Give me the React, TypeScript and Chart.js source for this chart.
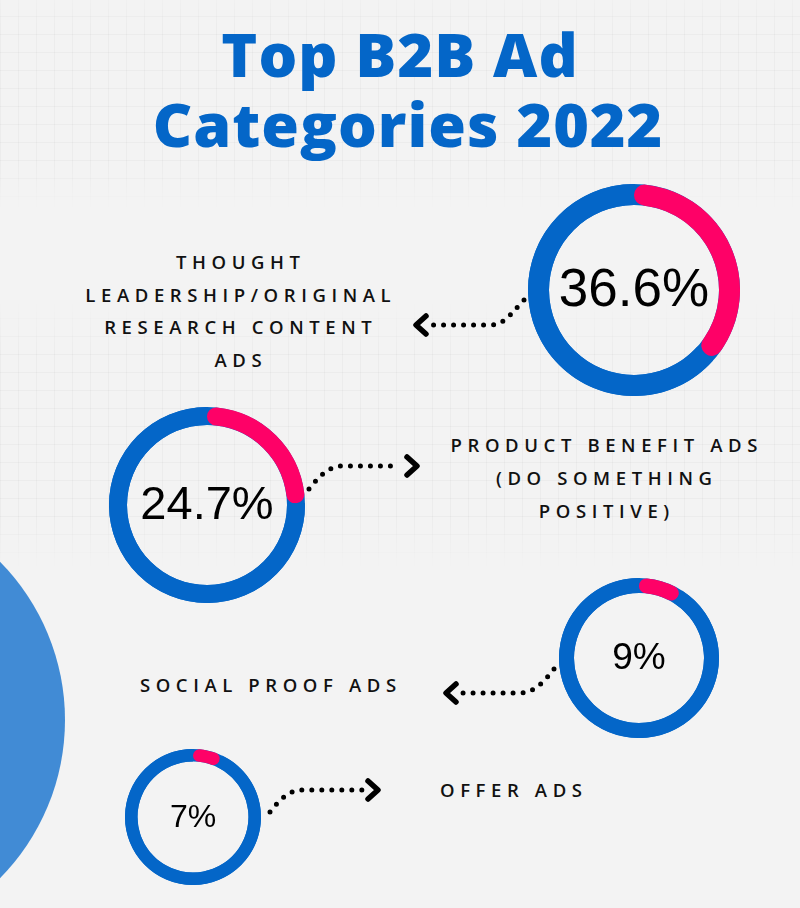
import React, { useEffect, useRef } from "react";
import { Chart, registerables } from "chart.js";

Chart.register(...registerables);

const titleLines = ["Top B2B Ad", "Categories 2022"];
const categoryLines = [
  ["THOUGHT", "LEADERSHIP/ORIGINAL", "RESEARCH CONTENT", "ADS"],
  ["PRODUCT BENEFIT ADS", "(DO SOMETHING", "POSITIVE)"],
  ["SOCIAL PROOF ADS"],
  ["OFFER ADS"],
];
const shares = [36.6, 24.7, 9, 7];
const shareLabels = ["36.6%", "24.7%", "9%", "7%"];

const BLUE = "#0466c8";
const PINK = "#fe0167";

type DonutSpec = { cx: number; cy: number; r: number; w: number; font: number };
const donutSpecs: DonutSpec[] = [
  { cx: 634, cy: 290, r: 106, w: 21, font: 53 },
  { cx: 207, cy: 505, r: 98, w: 18, font: 47 },
  { cx: 639, cy: 658, r: 80, w: 15, font: 37 },
  { cx: 193, cy: 817, r: 68, w: 12.5, font: 32 },
];

const labelSpecs = [
  { cx: 238, top: 246, lh: 32.7 },
  { cx: 604, top: 428, lh: 33 },
  { cx: 268, top: 668, lh: 33 },
  { cx: 511, top: 773, lh: 33 },
];

function Donut({ idx }: { idx: number }) {
  const ref = useRef<HTMLCanvasElement | null>(null);
  const s = donutSpecs[idx];
  useEffect(() => {
    if (!ref.current) return;
    const ringPlugin = {
      id: "ringBg",
      beforeDatasetsDraw(chart: any) {
        const arc = chart.getDatasetMeta(0).data[0];
        if (!arc) return;
        const { x, y, innerRadius, outerRadius } = arc.getProps(["x", "y", "innerRadius", "outerRadius"], true);
        const c = chart.ctx;
        c.save();
        c.beginPath();
        c.arc(x, y, outerRadius, 0, Math.PI * 2);
        c.arc(x, y, innerRadius, Math.PI * 2, 0, true);
        c.closePath();
        c.fillStyle = BLUE;
        c.fill("evenodd");
        c.restore();
      },
      afterDraw(chart: any) {
        const arc = chart.getDatasetMeta(0).data[0];
        if (!arc) return;
        const { x, y } = arc.getProps(["x", "y"], true);
        const c = chart.ctx;
        c.save();
        c.fillStyle = "#000";
        c.font = `400 ${s.font}px "Liberation Sans", Arial, sans-serif`;
        c.textAlign = "center";
        c.textBaseline = "middle";
        c.fillText(shareLabels[idx], x, y + 1);
        c.restore();
      },
    };
    const chart = new Chart(ref.current, {
      type: "doughnut",
      data: {
        labels: ["share", "rest"],
        datasets: [
          {
            data: [shares[idx], 100 - shares[idx]],
            backgroundColor: [PINK, BLUE],
            borderWidth: 0,
            borderRadius: (ctx: any) => (ctx.dataIndex === 0 ? s.w / 2 : 0),
            hoverOffset: 0,
          } as any,
        ],
      },
      options: {
        responsive: false,
        animation: false,
        devicePixelRatio: 1,
        cutout: s.r - s.w,
        layout: { padding: 0 },
        plugins: { legend: { display: false }, tooltip: { enabled: false } },
        events: [],
      },
      plugins: [ringPlugin],
    });
    return () => chart.destroy();
  }, [idx]);
  return (
    <canvas
      ref={ref}
      width={s.r * 2}
      height={s.r * 2}
      style={{ position: "absolute", left: s.cx - s.r, top: s.cy - s.r, width: s.r * 2, height: s.r * 2 }}
    />
  );
}

const arrows = [
  { path: "M 524 300 C 512 312, 505 325, 490 325 L 432 325", head: "426,316 416,325 426,334" },
  { path: "M 309 489 C 318 478, 328 466, 342 466 L 400 466", head: "407,457 417,466 407,475" },
  { path: "M 554 669 C 545 680, 535 693, 520 693 L 456 693", head: "456,684 446,693 456,702" },
  { path: "M 270 812 C 278 802, 288 790, 302 790 L 362 790", head: "368,781 378,790 368,799" },
];

const gridStyle = (top: number, height: number): React.CSSProperties => ({
  position: "absolute",
  left: 0,
  top,
  width: 800,
  height,
  backgroundImage:
    "linear-gradient(to right, rgba(0,0,0,0.028) 1px, transparent 1px), linear-gradient(to bottom, rgba(0,0,0,0.028) 1px, transparent 1px)",
  backgroundSize: "18px 18px",
  WebkitMaskImage: "linear-gradient(to bottom, transparent 0%, #000 20%, #000 80%, transparent 100%)",
  maskImage: "linear-gradient(to bottom, transparent 0%, #000 20%, #000 80%, transparent 100%)",
});

export default function App() {
  return (
    <div
      style={{
        position: "absolute",
        left: 0,
        top: 0,
        width: 800,
        height: 908,
        overflow: "hidden",
        background: "#f3f3f3",
      }}
    >
      <div style={gridStyle(-20, 230)} />
      <div style={gridStyle(300, 270)} />
      <div
        style={{
          position: "absolute",
          left: -385,
          top: 495,
          width: 450,
          height: 450,
          borderRadius: "50%",
          background: "#418bd5",
        }}
      />
      {titleLines.map((t, i) => (
        <div
          key={i}
          style={{
            position: "absolute",
            left: i === 0 ? -6 : 2,
            top: 19 + i * 70,
            width: 812,
            height: 62,
            textAlign: "center",
            color: BLUE,
            fontFamily: '"Open Sans", sans-serif',
            fontWeight: 800,
            fontSize: 61,
            letterSpacing: 1,
            lineHeight: "70px",
            whiteSpace: "nowrap",
          }}
        >
          {t}
        </div>
      ))}
      {labelSpecs.map((l, i) => (
        <div
          key={i}
          style={{
            position: "absolute",
            left: l.cx - 250,
            top: l.top,
            width: 500,
            textAlign: "center",
            fontFamily: '"Open Sans", sans-serif',
            fontWeight: 600,
            fontSize: 18.5,
            letterSpacing: 5.6,
            lineHeight: `${l.lh}px`,
            color: "#111",
            paddingLeft: 5.6,
            boxSizing: "border-box",
          }}
        >
          {categoryLines[i].map((t, j) => (
            <div key={j} style={{ height: l.lh }}>{t}</div>
          ))}
        </div>
      ))}
      <svg width={800} height={908} style={{ position: "absolute", left: 0, top: 0 }}>
        {arrows.map((a, i) => (
          <g key={i}>
            <path d={a.path} fill="none" stroke="#000" strokeWidth={5} strokeLinecap="round" strokeDasharray="0 10" />
            <polyline points={a.head} fill="none" stroke="#000" strokeWidth={5.5} strokeLinecap="round" strokeLinejoin="round" />
          </g>
        ))}
      </svg>
      {donutSpecs.map((_, i) => (
        <Donut key={i} idx={i} />
      ))}
    </div>
  );
}
